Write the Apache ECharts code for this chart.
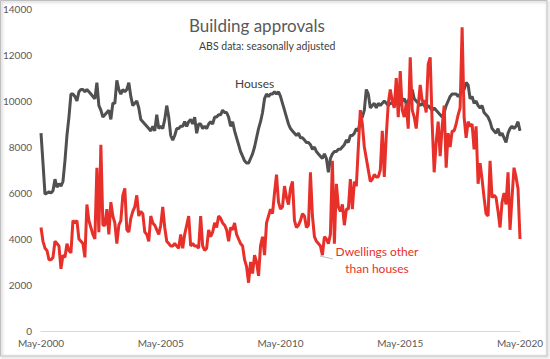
<!DOCTYPE html>
<html>
<head>
<meta charset="utf-8">
<script src="https://cdn.jsdelivr.net/npm/echarts@6/dist/echarts.min.js"></script>
<style>
html,body{margin:0;padding:0;background:#fff;}
#chart{width:550px;height:359px;}
</style>
</head>
<body>
<div id="chart"></div>
<script>
// Monthly categories May-2000 .. May-2020
const months = ['Jan','Feb','Mar','Apr','May','Jun','Jul','Aug','Sep','Oct','Nov','Dec'];
const categories = [];
for (let k = 0; k < 241; k++) {
  const m = (4 + k) % 12;
  const y = 2000 + Math.floor((4 + k) / 12);
  categories.push(months[m] + '-' + y);
}

const yTicks = [0, 2000, 4000, 6000, 8000, 10000, 12000, 14000];

const houses = [
  8600, 7300, 5950, 6000, 6050, 6000, 6100, 6600, 6250, 6400,
  6300, 6500, 7400, 8500, 9300, 10300, 10300, 10200, 10000, 10400,
  10500, 10500, 10400, 10500, 10400, 10300, 10200, 10100, 10800, 9800,
  9600, 9300, 9400, 9500, 9600, 9200, 9900, 9900, 10900, 10500,
  10300, 10500, 10400, 10500, 10800, 10200, 9800, 9900, 10000, 9700,
  9200, 9100, 9000, 8900, 8800, 8700, 8900, 8700, 9400, 8800,
  8900, 8800, 9200, 9800, 9300, 8500, 8300, 8500, 8800, 8800,
  8900, 8900, 9100, 8900, 9100, 9200, 9000, 9300, 8600, 9000,
  9000, 8800, 8900, 8800, 9000, 9100, 9000, 9300, 9300, 9400,
  9400, 9600, 9500, 9500, 9300, 8900, 9100, 8700, 8400, 8100,
  7800, 7600, 7400, 7300, 7300, 7500, 7700, 8000, 8400, 8800,
  9100, 9500, 10100, 10300, 10200, 10300, 10300, 10400, 10300, 10400,
  10200, 9900, 9600, 9300, 9000, 8800, 8700, 8600, 8500, 8600,
  8400, 8400, 8300, 8200, 8200, 8100, 7900, 8000, 7800, 7700,
  7600, 7500, 7700, 7500, 6900, 7500, 7700, 7800, 7800, 7900,
  7900, 8000, 8100, 8300, 8200, 8500, 8500, 8600, 8800, 8700,
  9200, 9300, 9600, 10500, 10300, 9700, 9800, 9900, 9700, 9900,
  9800, 9900, 10000, 9900, 9800, 9900, 9900, 9800, 9900, 10000,
  9800, 10000, 10100, 9900, 10000, 10200, 10500, 10100, 10000, 9900,
  9800, 9900, 9800, 9700, 9800, 9700, 9600, 9700, 9600, 9500,
  9400, 9300, 9500, 9800, 10000, 10200, 10300, 10300, 10300, 10200,
  10300, 10400, 10500, 10800, 10700, 10100, 10200, 9900, 10000, 9800,
  9700, 9800, 9500, 9400, 9300, 9100, 8800, 8700, 8600, 8800,
  8500, 8600, 8400, 8200, 8600, 8800, 8900, 8800, 8900, 9100,
  8700
];

const otherDwellings = [
  4500, 3900, 3600, 3500, 3100, 3100, 3200, 3900, 3800, 3700,
  2700, 3300, 3200, 3800, 3500, 3400, 4800, 4700, 4800, 4000,
  3900, 3800, 3200, 5500, 4800, 4500, 4200, 4000, 7100, 4300,
  8100, 4600, 4600, 5300, 4200, 5600, 5000, 4700, 3800, 4600,
  4800, 5900, 6200, 4400, 4300, 4900, 5200, 5400, 5900, 5000,
  5200, 5100, 4300, 4200, 3900, 5000, 4700, 4600, 4400, 4200,
  4600, 5400, 4500, 3900, 3800, 3700, 3700, 3800, 3700, 3600,
  4200, 3600, 4200, 4600, 5000, 3700, 3800, 3700, 3700, 3600,
  5000, 3700, 3500, 3600, 4400, 4100, 4300, 4700, 4500, 5000,
  4900, 4700, 4600, 4400, 3900, 4500, 4400, 4700, 4200, 4000,
  3800, 3700, 3100, 2800, 2100, 3000, 2500, 3300, 3000, 2400,
  3700, 4100, 3300, 4700, 5000, 5300, 5100, 6000, 6800, 5600,
  5300, 5400, 6300, 5800, 5500, 6200, 6500, 4800, 4500, 4600,
  4800, 5100, 5000, 4500, 4600, 6900, 5000, 4100, 3900, 3800,
  3700, 3300, 4100, 4000, 3800, 4200, 7400, 3800, 6400, 5400,
  5200, 5500, 4600, 5300, 5300, 6600, 5300, 6500, 6300,
  8000, 9600, 9000, 8000, 7500, 7000, 6500, 6600, 6800, 6700,
  6700, 7000, 8700, 6700, 8500, 9900, 10500, 10000, 9700, 11000,
  9300, 11300, 9600, 9300, 9900, 8800, 11900, 9600, 9300, 8800,
  9800, 10700, 10000, 10000, 9500, 11600, 11900, 9000, 6900, 8200,
  9100, 7600, 8900, 9800, 7100, 8600, 8000, 8700, 8700, 9000,
  9400, 9700, 13200, 9300, 8400, 9100, 8900, 9000, 7900, 8900,
  6400, 7300, 6600, 5800, 5100, 5000, 7400, 5800, 5900, 5800,
  5200, 4500, 5600, 6000, 5500, 6900, 4400, 5800, 7100, 6700,
  6200, 4000
];

const FONT = 'Lato, "Open Sans", sans-serif';
const chart = echarts.init(document.getElementById('chart'), null, {renderer: 'svg'});

chart.setOption({
  animation: false,
  backgroundColor: '#ffffff',
  grid: {left: 37, right: 30, top: 9, bottom: 28, containLabel: false},
  xAxis: {
    type: 'category',
    data: categories,
    boundaryGap: false,
    axisLine: {show: true, lineStyle: {color: '#d9d9d9', width: 1}},
    axisTick: {show: false},
    axisLabel: {
      interval: 59,
      color: '#595959',
      fontSize: 10,
      fontFamily: FONT,
      margin: 7
    },
    splitLine: {show: false}
  },
  yAxis: {
    type: 'value',
    min: yTicks[0],
    max: yTicks[yTicks.length - 1],
    interval: 2000,
    axisLine: {show: false},
    axisTick: {show: false},
    splitLine: {show: false},
    axisLabel: {color: '#595959', fontSize: 10, fontFamily: FONT, margin: 9,
      formatter: function (v) { return String(v); }}
  },
  series: [
    {
      name: 'Houses',
      type: 'line',
      data: houses,
      showSymbol: false,
      lineStyle: {color: '#505050', width: 3},
      itemStyle: {color: '#505050'},
      z: 2
    },
    {
      name: 'Dwellings other than houses',
      type: 'line',
      data: otherDwellings,
      showSymbol: false,
      lineStyle: {color: '#E8302A', width: 3},
      itemStyle: {color: '#E8302A'},
      z: 3
    }
  ],
  graphic: [
    {
      type: 'rect',
      shape: {x: 0.5, y: 0.5, width: 546.5, height: 355.5},
      style: {fill: 'none', stroke: '#bfbfbf', lineWidth: 1, shadowBlur: 3, shadowColor: 'rgba(0,0,0,0.35)', shadowOffsetX: 1, shadowOffsetY: 1},
      silent: true, z: 0
    },
    {
      type: 'text', left: 189, top: 17,
      style: {text: 'Building approvals', fill: '#595959', font: '17px ' + FONT}
    },
    {
      type: 'text', left: 199, top: 40,
      style: {text: 'ABS data: seasonally adjusted', fill: '#404040', font: '10.5px ' + FONT}
    },
    {
      type: 'text', left: 235, top: 77,
      style: {text: 'Houses', fill: '#404040', font: '12px ' + FONT}
    },
    {
      type: 'text', x: 377, y: 243,
      style: {text: 'Dwellings other\nthan houses', fill: '#E8302A', font: '12px ' + FONT, textAlign: 'center', lineHeight: 17}
    },
    {
      type: 'line',
      shape: {x1: 320, y1: 256, x2: 333, y2: 259},
      style: {stroke: '#bfbfbf', lineWidth: 1},
      silent: true
    }
  ]
});
</script>
</body>
</html>
